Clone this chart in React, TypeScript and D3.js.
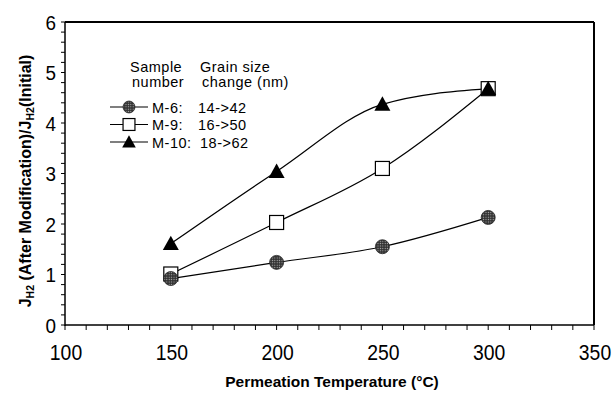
import React from "react";
import * as d3 from "d3";

const temps = [150, 200, 250, 300];
const m6 = [0.92, 1.24, 1.55, 2.13];
const m9 = [1.01, 2.03, 3.1, 4.68];
const m10 = [1.61, 3.04, 4.37, 4.68];
const xTicks = [100, 150, 200, 250, 300, 350];
const yTicks = [0, 1, 2, 3, 4, 5, 6];
const legendRows = [
  { name: "M-6:", change: "14->42", marker: "circle" },
  { name: "M-9:", change: "16->50", marker: "square" },
  { name: "M-10:", change: "18->62", marker: "triangle" },
];

const W = 612, H = 395;
const L = 65, R = 594, T = 22, B = 325;
const FONT = "Liberation Sans, Arial, Helvetica, sans-serif";

function Marker({ type, x, y, s = 1 }: { type: string; x: number; y: number; s?: number }) {
  if (type === "circle")
    return <circle cx={x} cy={y} r={7 * s} fill="url(#dots)" stroke="#222" strokeWidth={0.8} />;
  if (type === "square")
    return <rect x={x - 7 * s} y={y - 7 * s} width={14 * s} height={14 * s} fill="white" stroke="black" strokeWidth={1.2} />;
  const k = 8 * s;
  return <path d={`M${x},${y - k} L${x + k},${y + k * 0.8} L${x - k},${y + k * 0.8}Z`} fill="black" />;
}

export default function App() {
  const x = d3.scaleLinear().domain([100, 350]).range([L, R]);
  const y = d3.scaleLinear().domain([0, 6]).range([B, T]);
  const line = d3
    .line<number>()
    .x((_, i) => x(temps[i]))
    .y((d) => y(d))
    .curve(d3.curveMonotoneX);
  const xMinor = d3.range(100, 351, 10);
  const yMinor = d3.range(0, 6.01, 0.2);
  const series = [
    { vals: m9, marker: "square" },
    { vals: m6, marker: "circle" },
    { vals: m10, marker: "triangle" },
  ];
  return (
    <svg width={W} height={H} style={{ position: "absolute", left: 0, top: 0, background: "white" }} fontFamily={FONT}>
      <defs>
        <pattern id="dots" width={2.4} height={2.4} patternUnits="userSpaceOnUse">
          <rect width={2.4} height={2.4} fill="#333" />
          <circle cx={1.2} cy={1.2} r={0.6} fill="#bbb" />
        </pattern>
      </defs>
      {/* frame */}
      <line x1={L} x2={R} y1={T} y2={T} stroke="black" strokeWidth={2} />
      <line x1={R} x2={R} y1={T} y2={B} stroke="black" strokeWidth={2} />
      <line x1={L} x2={L} y1={T} y2={B + 1} stroke="black" strokeWidth={1.5} />
      <line x1={L} x2={R} y1={B} y2={B} stroke="black" strokeWidth={1.5} />
      {xMinor.map((v) => (
        <line key={"xm" + v} x1={x(v)} x2={x(v)} y1={B} y2={B + 5} stroke="black" strokeWidth={1} />
      ))}
      {yMinor.map((v, i) => (
        <line key={"ym" + i} x1={L - 4} x2={L} y1={y(v)} y2={y(v)} stroke="black" strokeWidth={1} />
      ))}
      {xTicks.map((v) => (
        <g key={"xt" + v} transform={`translate(${x(v) + 1},360) scale(0.88,1)`}>
          <text fontSize={22} textAnchor="middle">{v}</text>
        </g>
      ))}
      {yTicks.map((v) => (
        <g key={"yt" + v} transform={`translate(56,${y(v) + 7.5}) scale(0.9,1)`}>
          <text fontSize={21} textAnchor="end">{v}</text>
        </g>
      ))}
      <text x={332} y={387} fontSize={15.5} fontWeight="bold" textAnchor="middle">
        Permeation Temperature (°C)
      </text>
      <text transform={`translate(31,181) rotate(-90)`} fontSize={16} fontWeight="bold" textAnchor="middle">
        J<tspan fontSize={10.5} dy={3}>H2</tspan>
        <tspan dy={-3}> (After Modification)/J</tspan>
        <tspan fontSize={10.5} dy={3}>H2</tspan>
        <tspan dy={-3}>(Initial)</tspan>
      </text>
      {series.map((s, si) => (
        <path key={"s" + si} d={line(s.vals) || ""} fill="none" stroke="black" strokeWidth={1.2} />
      ))}
      {series.map((s, si) =>
        s.vals.map((v, i) => <Marker key={si + "-" + i} type={s.marker} x={x(temps[i])} y={y(v)} />)
      )}
      {/* legend */}
      <g fontSize={14.5} letterSpacing={0.5}>
        <text x={130} y={72}>Sample</text>
        <text x={132} y={87}>number</text>
        <text x={200} y={72}>Grain size</text>
        <text x={202} y={87}>change (nm)</text>
        {legendRows.map((r, i) => {
          const cy = 107 + i * 17.5;
          return (
            <g key={"lg" + i}>
              <line x1={110} x2={148} y1={cy} y2={cy} stroke="black" strokeWidth={1.2} />
              <Marker type={r.marker} x={129} y={cy} s={0.85} />
              <text x={152} y={cy + 5.5}>{r.name}</text>
              <text x={r.name === "M-10:" ? 200 : 198} y={cy + 5.5}>{r.change}</text>
            </g>
          );
        })}
      </g>
    </svg>
  );
}
